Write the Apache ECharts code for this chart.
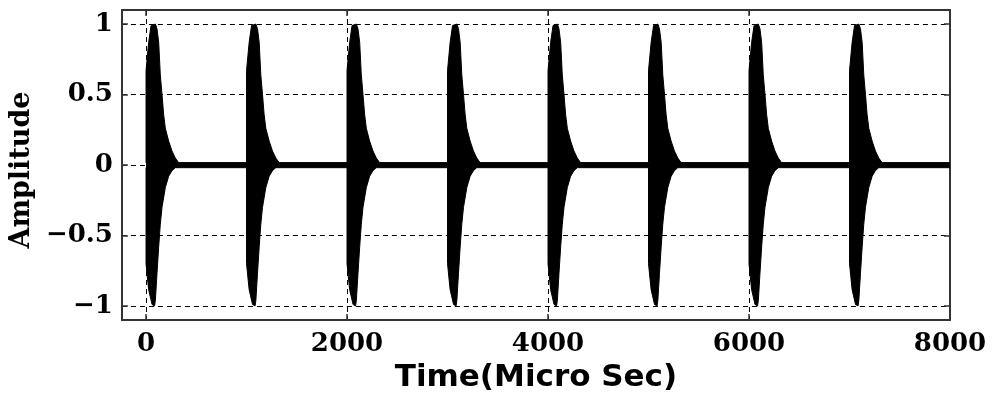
<!DOCTYPE html>
<html><head><meta charset="utf-8">
<script src="https://cdn.jsdelivr.net/npm/echarts@6/dist/echarts.min.js"></script>
<style>html,body{margin:0;padding:0;background:#fff}#c{width:993px;height:398px}</style>
</head><body><div id="c"></div>
<script>
// Burst start times (micro sec)
const burstStarts = [0, 1000, 2000, 3000, 4000, 5000, 6000, 7000];
// Upper envelope of each burst: time offset from burst start, amplitude
const upperOffsets = [0, 0, 26, 50, 60, 93, 109, 126, 142, 159, 175, 192, 225, 258, 291, 324];
const upperEnv     = [0.017, 0.67, 0.87, 0.99, 1.0, 1.0, 0.967, 0.87, 0.64, 0.50, 0.36, 0.26, 0.17, 0.10, 0.05, 0.017];
// Lower envelope of each burst
const lowerOffsets = [0, 0, 26, 60, 70, 85, 93, 109, 126, 142, 159, 192, 225, 258, 291];
const lowerEnv     = [-0.019, -0.70, -0.885, -0.99, -1.0, -1.0, -0.96, -0.77, -0.58, -0.42, -0.30, -0.16, -0.08, -0.04, -0.019];
// Residual noise level between bursts
const noiseUpper = 0.017;
const noiseLower = -0.019;
const signalEnd = 8000;
// Axis ticks
const xTicks = [0, 2000, 4000, 6000, 8000];
const yTicks = [-1, -0.5, 0, 0.5, 1];

function buildEnvelope(offsets, env, tail) {
  const pts = [];
  burstStarts.forEach(s => {
    offsets.forEach((o, i) => pts.push([s + o, env[i]]));
  });
  pts.push([signalEnd, tail]);
  return pts;
}
const upperData = buildEnvelope(upperOffsets, upperEnv, noiseUpper);
const lowerData = buildEnvelope(lowerOffsets, lowerEnv, noiseLower);

const frame = {color: '#333', width: 2};
const tickStyle = {color: '#333', width: 1.5};
const tickFont = {fontFamily: 'DejaVu Serif', fontWeight: 'bold', fontSize: 26, color: '#000'};
const grid = {type: [5, 4], color: '#000', width: 1};
const plain = v => String(v).replace('-', '\u2212');

const chart = echarts.init(document.getElementById('c'), null, {renderer: 'canvas'});
chart.setOption({
  animation: false,
  backgroundColor: '#fff',
  grid: {left: 120, right: 43, top: 10, bottom: 76, containLabel: false},
  xAxis: [{
    type: 'value', min: -240, max: 8000, position: 'bottom',
    axisLine: {show: true, onZero: false, lineStyle: frame},
    axisTick: {show: true, inside: true, length: 6, customValues: xTicks, lineStyle: tickStyle},
    axisLabel: Object.assign({customValues: xTicks, margin: 11, formatter: plain}, tickFont),
    splitLine: {show: true, lineStyle: grid},
    name: 'Time(Micro Sec)', nameLocation: 'middle', nameGap: 42,
    nameTextStyle: {fontFamily: 'DejaVu Sans', fontWeight: 'bold', fontSize: 31, color: '#000'}
  }, {
    type: 'value', min: -240, max: 8000, position: 'top',
    axisLine: {show: true, onZero: false, lineStyle: frame},
    axisTick: {show: true, inside: true, length: 6, customValues: xTicks, lineStyle: tickStyle},
    axisLabel: {show: false}, splitLine: {show: false}
  }],
  yAxis: [{
    type: 'value', min: -1.1, max: 1.1, position: 'left',
    axisLine: {show: true, onZero: false, lineStyle: frame},
    axisTick: {show: true, inside: true, length: 6, customValues: yTicks, lineStyle: tickStyle},
    axisLabel: Object.assign({customValues: yTicks, margin: 9, formatter: plain}, tickFont),
    splitLine: {show: true, lineStyle: grid},
    name: 'Amplitude', nameLocation: 'middle', nameGap: 84, nameRotate: 90,
    nameTextStyle: {fontFamily: 'DejaVu Serif', fontWeight: 'bold', fontSize: 27, color: '#000',
      padding: [0, 10, 0, 0]}
  }, {
    type: 'value', min: -1.1, max: 1.1, position: 'right',
    axisLine: {show: true, onZero: false, lineStyle: frame},
    axisTick: {show: true, inside: true, length: 6, customValues: yTicks, lineStyle: tickStyle},
    axisLabel: {show: false}, splitLine: {show: false}
  }],
  series: [{
    type: 'line', xAxisIndex: 0, yAxisIndex: 0, data: upperData, showSymbol: false,
    lineStyle: {color: '#000', width: 1}, areaStyle: {color: '#000', opacity: 1, origin: 'auto'},
    z: 3
  }, {
    type: 'line', xAxisIndex: 0, yAxisIndex: 0, data: lowerData, showSymbol: false,
    lineStyle: {color: '#000', width: 1}, areaStyle: {color: '#000', opacity: 1, origin: 'auto'},
    z: 3
  }]
});
</script>
</body></html>
